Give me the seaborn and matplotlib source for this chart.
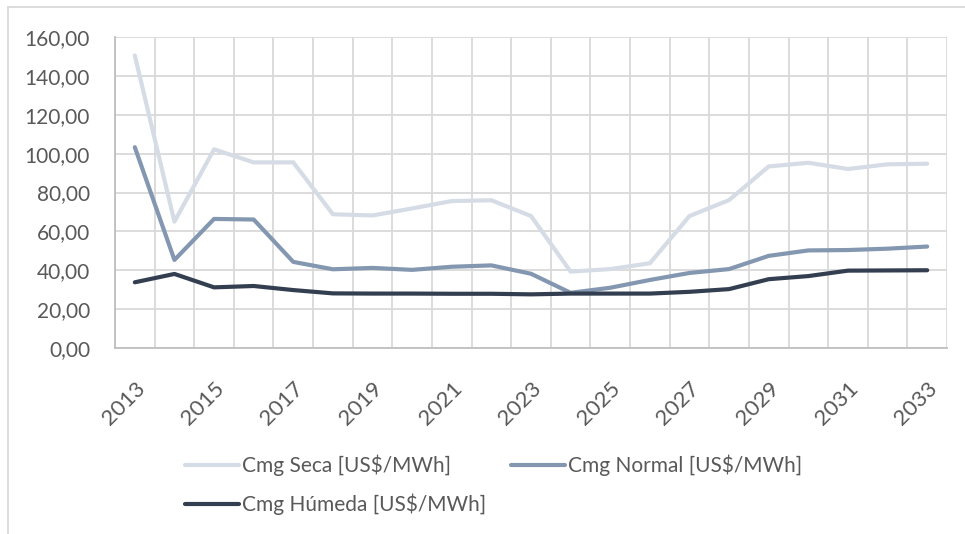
import matplotlib
matplotlib.use("Agg")
import matplotlib.pyplot as plt
from matplotlib.patches import Rectangle
from matplotlib.ticker import FixedLocator, FuncFormatter
import numpy as np
import pandas as pd
import seaborn as sns

years = list(range(2013, 2034))
cmg_seca = [150.5, 65.0, 102.2, 95.5, 95.5, 68.8, 68.2, 71.8, 75.6, 76.0, 67.9,
            39.3, 40.6, 43.6, 67.9, 76.1, 93.4, 95.3, 92.1, 94.5, 94.8]
cmg_normal = [103.3, 45.3, 66.4, 66.1, 44.3, 40.5, 41.2, 40.2, 41.8, 42.5, 38.2,
              28.4, 31.0, 35.0, 38.6, 40.6, 47.4, 50.2, 50.4, 51.1, 52.2]
cmg_humeda = [33.8, 38.1, 31.2, 31.9, 29.8, 28.1, 28.0, 28.0, 27.9, 27.9, 27.6,
              28.0, 28.0, 28.0, 28.9, 30.3, 35.4, 37.0, 39.8, 39.9, 40.0]
series_names = ["Cmg Seca [US$/MWh]", "Cmg Normal [US$/MWh]", "Cmg Húmeda [US$/MWh]"]
series_colors = ["#D6DCE5", "#8497B0", "#333F50"]
y_ticks = [0, 20, 40, 60, 80, 100, 120, 140, 160]

df = pd.DataFrame({
    "Año": years * 3,
    "Valor": cmg_seca + cmg_normal + cmg_humeda,
    "Serie": [series_names[0]] * len(years) + [series_names[1]] * len(years)
             + [series_names[2]] * len(years),
})

sns.set_theme(style="white")
plt.rcParams["font.family"] = ["Lato", "DejaVu Sans"]
text_color = "#595959"
grid_color = "#D9D9D9"

fig = plt.figure(figsize=(9.65, 5.34), dpi=100)
ax = fig.add_axes([115 / 965, 1 - 348 / 534, 832 / 965, 311 / 534])

sns.lineplot(data=df, x="Año", y="Valor", hue="Serie", hue_order=series_names,
             palette=series_colors, linewidth=3, ax=ax, legend=False,
             solid_capstyle="round", solid_joinstyle="round", zorder=3)

ax.set_xlim(years[0] - 0.5, years[-1] + 0.5)
ax.set_ylim(0, 160)
ax.set_xlabel("")
ax.set_ylabel("")

# category boundaries carry the vertical gridlines, odd years carry the labels
ax.xaxis.set_minor_locator(FixedLocator(np.arange(years[0] - 0.5, years[-1] + 1.0, 1.0)))
ax.set_xticks(years[::2])
ax.set_xticklabels([str(y) for y in years[::2]], rotation=45, ha="right",
                   rotation_mode="anchor", fontsize=16, color=text_color)
ax.set_yticks(y_ticks)
ax.yaxis.set_major_formatter(FuncFormatter(lambda v, p: f"{v:.2f}".replace(".", ",")))
for lab in ax.get_yticklabels():
    lab.set_fontsize(15)
    lab.set_color(text_color)

ax.grid(False)
ax.grid(True, which="minor", axis="x", color=grid_color, linewidth=1.3)
ax.grid(True, which="major", axis="y", color=grid_color, linewidth=1.3)
ax.tick_params(axis="both", which="both", length=0)
ax.tick_params(axis="x", pad=22)
ax.tick_params(axis="y", pad=18)
for side in ["top", "right"]:
    ax.spines[side].set_visible(False)
for side in ["left", "bottom"]:
    ax.spines[side].set_color("#BFBFBF")
    ax.spines[side].set_linewidth(1.3)

# legend laid out row-wise: Seca, Normal / Húmeda
handles = [plt.Line2D([], [], color=c, linewidth=3) for c in series_colors]
order = [0, 2, 1]
leg = fig.legend([handles[i] for i in order], [series_names[i] for i in order],
                 ncol=2, loc="upper left", bbox_to_anchor=(170 / 965, 1 - 440 / 534),
                 frameon=False, fontsize=15, handlelength=2.6, handletextpad=0.15,
                 columnspacing=1.2, labelspacing=0.85, borderpad=0.2)
for t in leg.get_texts():
    t.set_color(text_color)

# chart area outline
fig.patches.append(Rectangle((8 / 965, -0.05), 2.0, 1.05 - 7 / 534,
                             transform=fig.transFigure, fill=False,
                             edgecolor=grid_color, linewidth=1.3))

fig.savefig("out.png", dpi=100)
